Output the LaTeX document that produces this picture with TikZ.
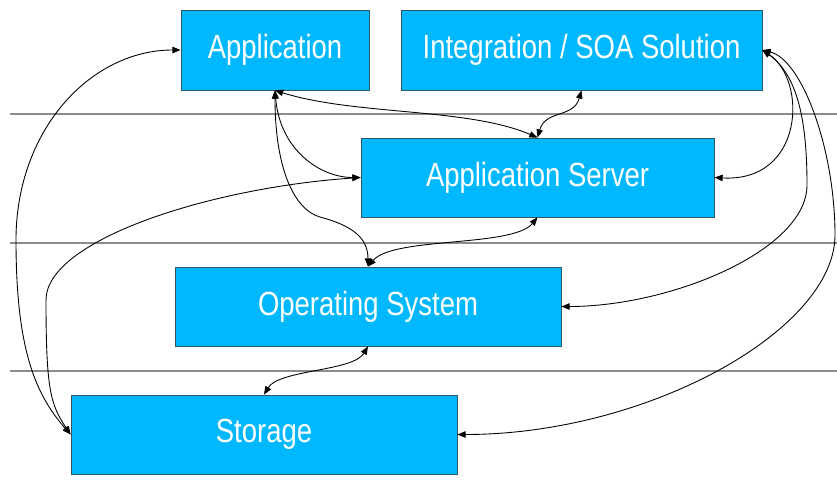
\documentclass[tikz,border=0pt]{standalone}
\usepackage{fontspec}
\setmainfont{Liberation Sans}[FakeStretch=0.82]
\usetikzlibrary{arrows.meta}
\definecolor{boxblue}{RGB}{0,184,255}
\definecolor{boxedge}{RGB}{50,85,100}
\definecolor{rulegray}{RGB}{140,140,140}
\begin{document}
\begin{tikzpicture}[x=0.03cm,y=-0.03cm,
  layerbox/.style={rectangle, fill=boxblue, draw=boxedge, line width=0.7pt, text=white, inner sep=0pt, font=\fontsize{28.6}{30}\selectfont},
  link/.style={<->, >={Triangle[length=7pt,width=5.5pt]}, line width=0.75pt, black},
  tier/.style={draw=rulegray, line width=1.1pt}]
\useasboundingbox (0,0) rectangle (837,495);

% tier separators
\coordinate (l1a) at (10,114); \coordinate (l1b) at (837,114);
\coordinate (l2a) at (10,243); \coordinate (l2b) at (837,243);
\coordinate (l3a) at (10,371); \coordinate (l3b) at (837,371);
\draw[tier] (l1a) -- (l1b);
\draw[tier] (l2a) -- (l2b);
\draw[tier] (l3a) -- (l3b);

% boxes
\node[layerbox, minimum width=5.64cm, minimum height=2.4cm] (app) at (275,50) {Application};
\node[layerbox, minimum width=10.83cm, minimum height=2.4cm] (int) at (581.5,50) {Integration / SOA Solution};
\node[layerbox, minimum width=10.59cm, minimum height=2.37cm] (as) at (537.5,177.5) {Application Server};
\node[layerbox, minimum width=11.58cm, minimum height=2.37cm] (os) at (368,306.5) {Operating System};
\node[layerbox, minimum width=11.58cm, minimum height=2.37cm] (sto) at (264,434.5) {Storage};

% waypoints
\coordinate (w1) at (16,240);
\coordinate (w2) at (46,300);
\coordinate (w5) at (320,217);
\coordinate (w10) at (807,185);
\coordinate (w11) at (835,235);

% connectors
\draw[link] (app.west) .. controls +(-90,0) and +(0,-110) .. (w1) .. controls +(0,110) and +(-35,-40) .. (sto.west);
\draw[link] (as.west) .. controls +(-150,10) and +(0,-60) .. (w2) .. controls +(0,90) and +(-20,-30) .. (sto.west);
\draw[link] (app.south) .. controls +(80,25) and +(-70,-30) .. (as.north);
\draw[link] (app.south) .. controls +(5,60) and +(-40,0) .. (as.west);
\draw[link] (app.south) .. controls +(0,80) and +(-25,-7) .. (w5) .. controls +(30,8) and +(0,-30) .. (os.north);
\draw[link] (int.south) .. controls +(-8,28) and +(8,-28) .. (as.north);
\draw[link] (as.south) .. controls +(-25,30) and +(25,-30) .. (os.north);
\draw[link] (os.south) .. controls +(-15,25) and +(15,-25) .. (sto.north);
\draw[link] (int.east) .. controls +(45,30) and +(90,5) .. (as.east);
\draw[link] (int.east) .. controls +(35,25) and +(0,-65) .. (w10) .. controls +(0,65) and +(110,0) .. (os.east);
\draw[link] (int.east) .. controls +(40,10) and +(0,-85) .. (w11) .. controls +(0,95) and +(190,0) .. (sto.east);
\end{tikzpicture}
\end{document}
